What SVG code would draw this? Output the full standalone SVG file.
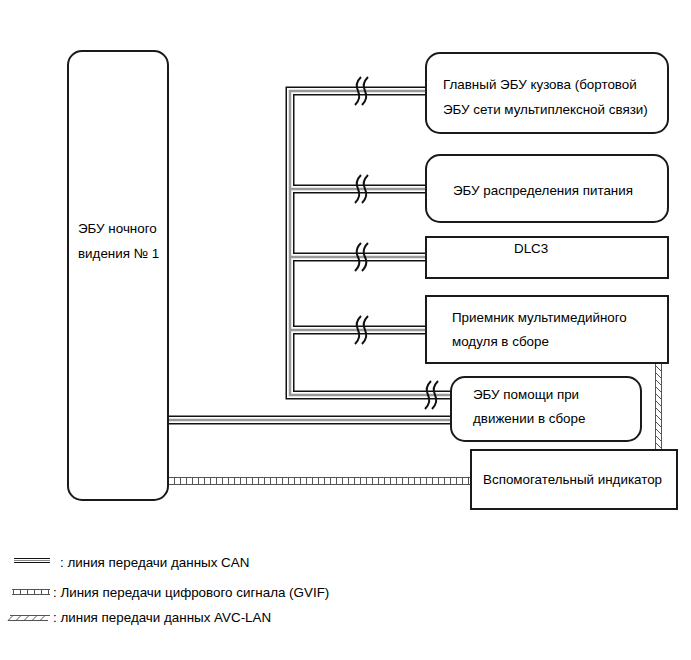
<svg xmlns="http://www.w3.org/2000/svg" width="691" height="660" viewBox="0 0 691 660">
<style>
text{font-family:"Liberation Sans",Arial,sans-serif;font-size:13.4px;fill:#000}
.lg{font-size:13.4px}
.box{fill:#fff;stroke:#1a1a1a;stroke-width:2}
.cb{fill:none;stroke:#111;stroke-width:9}
.cw{fill:none;stroke:#fff;stroke-width:6}
.cg{fill:none;stroke:#999;stroke-width:2.5}
.brk{fill:none;stroke:#111;stroke-width:2}
.thin{fill:none;stroke:#555;stroke-width:1}
</style>
<defs>
<path id="s" d="M3,-14 C-2,-9 -2,-4 0,0 C2,4 2,9 -3,14"/>
</defs>
<g id="connectors">
<g class="cb">
<path d="M426,91 H290 V395 H451"/>
<path d="M290,189 H426 M290,257 H426 M290,330 H426"/>
<path d="M168,420 H451"/>
</g>
<g class="cw">
<path d="M426,91 H290 V395 H451"/>
<path d="M290,189 H426 M290,257 H426 M290,330 H426"/>
<path d="M168,420 H451"/>
</g>
<g class="cg">
<path d="M426,91 H290 V395 H451"/>
<path d="M290,189 H426 M290,257 H426 M290,330 H426"/>
<path d="M168,420 H451"/>
</g>
<g class="brk">
<use href="#s" x="358" y="91"/><use href="#s" x="365" y="91"/>
<use href="#s" x="358" y="189"/><use href="#s" x="365" y="189"/>
<use href="#s" x="358" y="257"/><use href="#s" x="365" y="257"/>
<use href="#s" x="358" y="330"/><use href="#s" x="365" y="330"/>
<use href="#s" x="428" y="395"/><use href="#s" x="435" y="395"/>
</g>
<g id="gvif">
<path class="thin" d="M168,477.5 H471 M168,484.5 H471"/>
<path d="M168,481 H471" fill="none" stroke="#555" stroke-width="7" stroke-dasharray="1 5"/>
</g>
<g id="avc">
<path class="thin" d="M655.5,363 V450 M661.5,363 V450"/>
<path class="thin" d="M655,365 L662,372 M655,372 L662,379 M655,379 L662,386 M655,386 L662,393 M655,393 L662,400 M655,400 L662,407 M655,407 L662,414 M655,414 L662,421 M655,421 L662,428 M655,428 L662,435 M655,435 L662,442 M655,442 L662,449"/>
</g>
</g>
<g id="nv-ecu">
<rect class="box" x="68" y="51" width="100" height="449" rx="14"/>
<text x="78" y="233">ЭБУ ночного</text>
<text x="78" y="258">видения № 1</text>
</g>
<g id="body-ecu">
<rect class="box" x="426" y="53" width="242" height="80" rx="14"/>
<text x="443" y="89">Главный ЭБУ кузова (бортовой</text>
<text x="443" y="114">ЭБУ сети мультиплексной связи)</text>
</g>
<g id="power-ecu">
<rect class="box" x="426" y="155" width="242" height="67" rx="14"/>
<text x="453" y="195">ЭБУ распределения питания</text>
</g>
<g id="dlc3">
<rect class="box" x="426" y="237" width="242" height="41"/>
<text x="514" y="253">DLC3</text>
</g>
<g id="receiver">
<rect class="box" x="426" y="296" width="242" height="67"/>
<text x="452" y="322">Приемник мультимедийного</text>
<text x="452" y="346">модуля в сборе</text>
</g>
<g id="drive-ecu">
<rect class="box" x="451" y="377" width="190" height="64" rx="14"/>
<text x="473" y="399">ЭБУ помощи при</text>
<text x="473" y="423">движении в сборе</text>
</g>
<g id="indicator">
<rect class="box" x="471" y="450" width="206" height="59"/>
<text x="483" y="484">Вспомогательный индикатор</text>
</g>
<g id="legend">
<path d="M14,558.5 H50 M14,562.5 H50" stroke="#111" stroke-width="1.2" fill="none"/>
<path d="M14,560.5 H50" stroke="#888" stroke-width="1" fill="none"/>
<text class="lg" x="60" y="567">: линия передачи данных CAN</text>
<path class="thin" d="M12,589.5 H50 M12,594.5 H50"/>
<path d="M13,592 H50" fill="none" stroke="#555" stroke-width="5" stroke-dasharray="1 6"/>
<text class="lg" x="53" y="597">: Линия передачи цифрового сигнала (GVIF)</text>
<path class="thin" d="M10,615.5 H50 M8,620.5 H48"/>
<path class="thin" d="M8,620.5 L13,615.5 M16,620.5 L21,615.5 M24,620.5 L29,615.5 M32,620.5 L37,615.5 M40,620.5 L45,615.5"/>
<text class="lg" x="53" y="622">: линия передачи данных AVC-LAN</text>
</g>
</svg>
